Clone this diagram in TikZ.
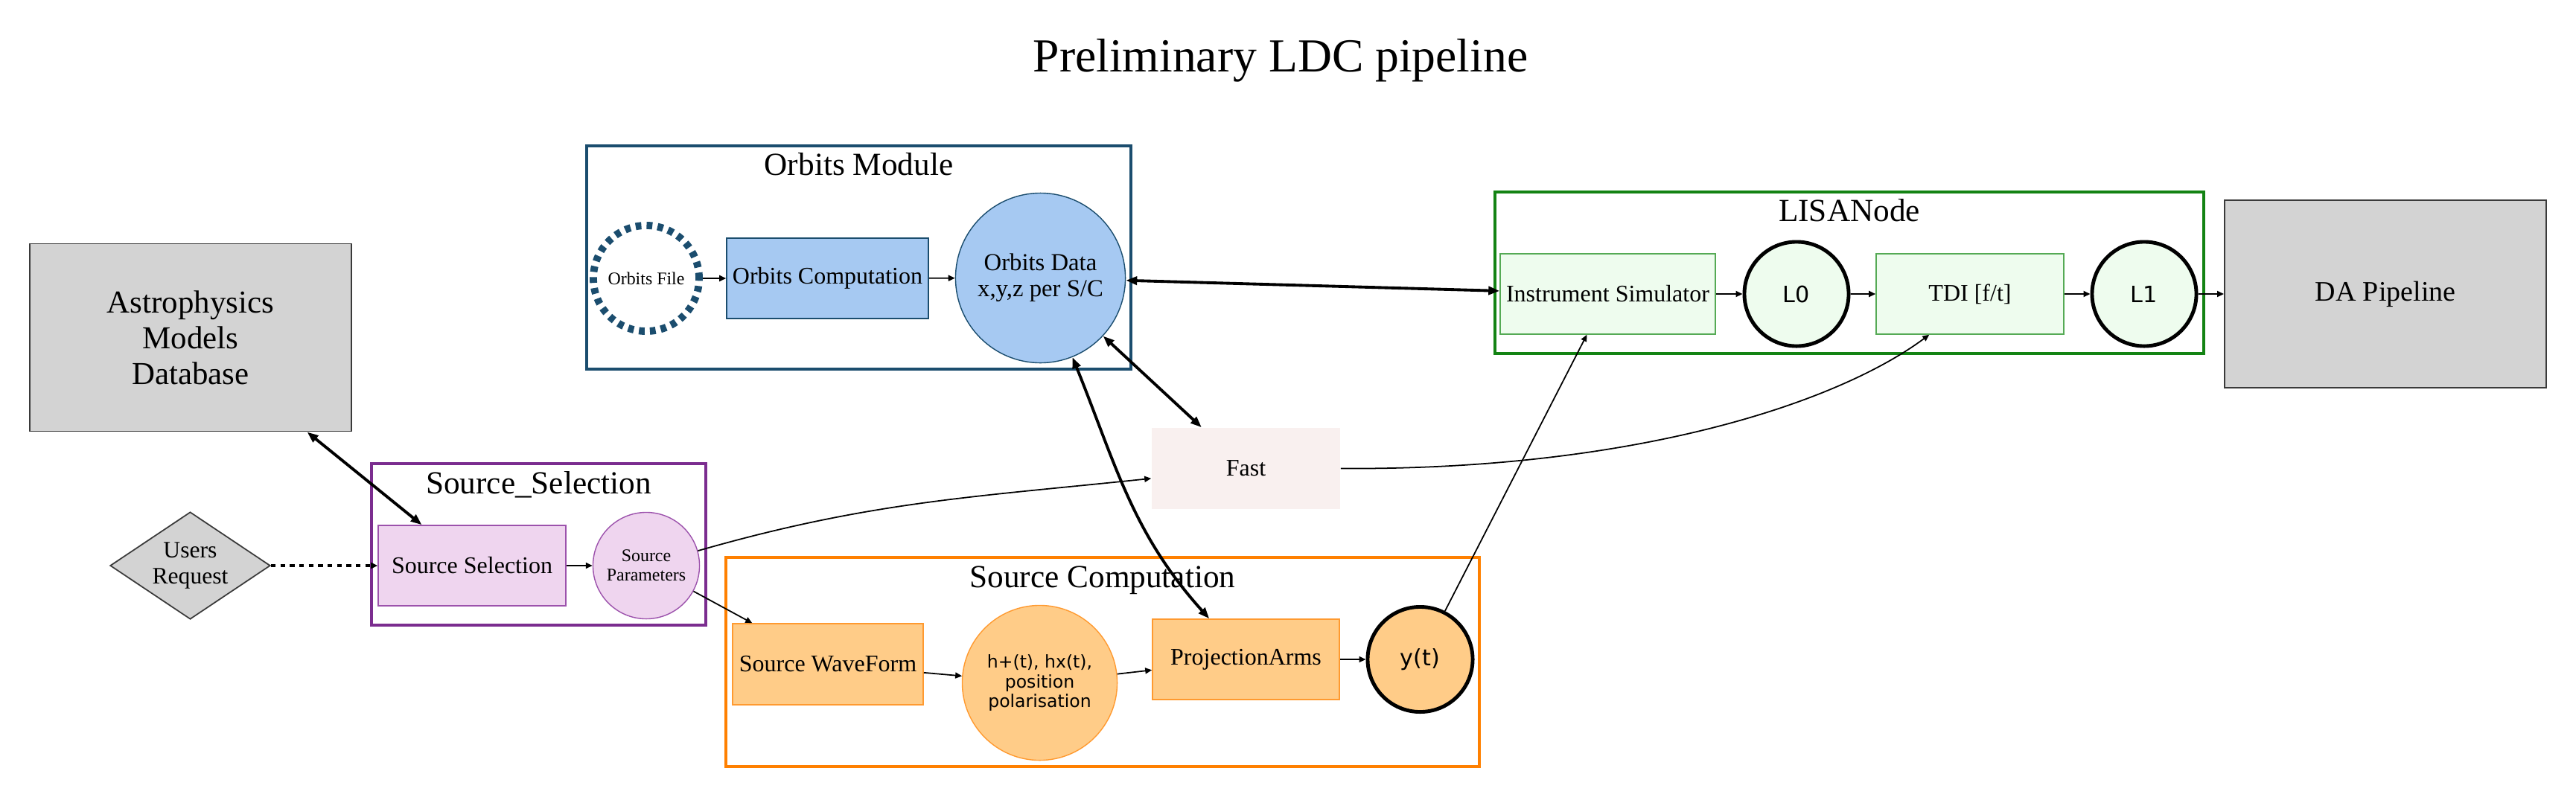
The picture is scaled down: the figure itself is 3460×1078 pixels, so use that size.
\documentclass[tikz,border=0pt]{standalone}
\usepackage{fontspec}
\setmainfont{Liberation Serif}
\newfontfamily\sansfont{DejaVu Sans}
\usepackage{tikz}
\usetikzlibrary{arrows.meta, shapes.geometric}

\definecolor{grayfill}{HTML}{D3D3D3}
\definecolor{grayline}{HTML}{3A3A3A}
\definecolor{orbline}{HTML}{1B4D6E}
\definecolor{orbfill}{HTML}{A6C9F2}
\definecolor{selline}{HTML}{7B2D8F}
\definecolor{selnode}{HTML}{9C52AC}
\definecolor{selfill}{HTML}{EFD5EF}
\definecolor{compline}{HTML}{FF8000}
\definecolor{compnode}{HTML}{FF9A30}
\definecolor{compfill}{HTML}{FFCC88}
\definecolor{lisaline}{HTML}{138313}
\definecolor{lisanode}{HTML}{55AA55}
\definecolor{lisafill}{HTML}{EEFCEE}
\definecolor{fastfill}{HTML}{F9F0EF}

\begin{document}
\begin{tikzpicture}[x=0.01cm, y=-0.01cm,
  lnk/.style={-{Triangle[length=0.09cm,width=0.08cm]}, line width=0.5pt},
  twoway/.style={{Triangle[length=0.15cm,width=0.11cm]}-{Triangle[length=0.15cm,width=0.11cm]}, line width=1.1pt},
  clus/.style={line width=1pt},
  clabel/.style={anchor=base, font=\fontsize{12.3}{14}\selectfont},
  rbox/.style={rectangle, draw, line width=0.4pt, minimum height=1.08cm, inner sep=0pt, align=center, font=\fontsize{9.1}{10}\selectfont},
  ball/.style={circle, draw, line width=0.4pt, inner sep=0pt, align=center},
  level/.style={ball, line width=1.4pt, minimum size=1.4cm, font=\sansfont\fontsize{8.6}{10}\selectfont},
  bigbox/.style={rectangle, draw=grayline, fill=grayfill, line width=0.5pt, minimum width=4.32cm, minimum height=2.52cm, align=center}]
\useasboundingbox (0,0) rectangle (3460,1078);

\node[anchor=base, font=\fontsize{18.1}{21}\selectfont] (title) at (1720,96) {Preliminary LDC pipeline};

% clusters
\draw[clus, draw=orbline] (788,196) rectangle (1519,496);
\node[clabel] (orblabel) at (1153.5,235) {Orbits Module};
\draw[clus, draw=selline] (499,623) rectangle (948,840);
\node[clabel] (sellabel) at (723.5,663.5) {Source\_Selection};
\draw[clus, draw=compline] (975,749) rectangle (1987,1030);
\node[clabel] (complabel) at (1481,789) {Source Computation};
\draw[clus, draw=lisaline] (2008,258) rectangle (2960,475);
\node[clabel] (lisalabel) at (2484,297) {LISANode};

% nodes
\node[bigbox, font=\fontsize{12.2}{13.7}\selectfont] (astro) at (256,453.5) {Astrophysics\\Models\\Database};
\node[diamond, aspect=1.5, draw=grayline, fill=grayfill, line width=0.5pt, inner sep=0pt, minimum width=2.15cm, minimum height=1.44cm, align=center, font=\fontsize{9}{9.7}\selectfont] (users) at (255.5,760) {Users\\Request};
\node[rbox, draw=selnode, fill=selfill, minimum width=2.52cm] (srcsel) at (634,760) {Source Selection};
\node[ball, draw=selnode, fill=selfill, minimum size=1.43cm, font=\fontsize{6.8}{7.4}\selectfont] (srcpar) at (868,760) {Source\\Parameters};

\node[ball, draw=orbline, line width=2.8pt, dash pattern=on 2.2pt off 2pt, minimum size=1.42cm, font=\fontsize{6.8}{7.4}\selectfont] (orbfile) at (868,374) {Orbits File};
\node[rbox, draw=orbline, fill=orbfill, minimum width=2.71cm] (orbcomp) at (1111.5,374) {Orbits Computation};
\node[ball, draw=orbline, fill=orbfill, minimum size=2.28cm, font=\fontsize{9.3}{10}\selectfont] (orbdata) at (1397.5,373.5) {Orbits Data\\x,y,z per S/C};

\node[rbox, draw=none, fill=fastfill, minimum width=2.53cm, minimum height=1.09cm] (fast) at (1673.5,629.5) {Fast};

\node[rbox, draw=compnode, fill=compfill, minimum width=2.56cm, minimum height=1.09cm] (srcwave) at (1112,892.5) {Source WaveForm};
\node[ball, draw=compnode, fill=compfill, minimum size=2.08cm, font=\sansfont\fontsize{6.7}{7.4}\selectfont] (hpol) at (1396.5,917.5) {h+(t), hx(t),\\position\\polarisation};
\node[rbox, draw=compnode, fill=compfill, minimum width=2.51cm] (proj) at (1673.5,886) {ProjectionArms};
\node[level, fill=compfill, minimum size=1.41cm] (yt) at (1907.5,886) {y(t)};

\node[rbox, draw=lisanode, fill=lisafill, minimum width=2.89cm] (instr) at (2159.5,395) {Instrument Simulator};
\node[level, fill=lisafill] (lzero) at (2413,395) {L0};
\node[rbox, draw=lisanode, fill=lisafill, minimum width=2.52cm] (tdi) at (2646,395) {TDI [f/t]};
\node[level, fill=lisafill] (lone) at (2880,395) {L1};

\node[bigbox, font=\fontsize{10.8}{12}\selectfont] (dapipe) at (3204,395) {DA Pipeline};

% edges
\draw[twoway] (astro) -- (srcsel);
\draw[lnk, line width=1.2pt, dash pattern=on 1.8pt off 1.8pt] (users) -- (srcsel);
\draw[lnk] (srcsel) -- (srcpar);
\draw[lnk] (srcpar) to[out=16, in=186] (fast);
\draw[lnk] (srcpar) -- (srcwave);
\draw[lnk] (orbfile) -- (orbcomp);
\draw[lnk] (orbcomp) -- (orbdata);
\draw[twoway] (orbdata) -- (instr);
\draw[twoway] (orbdata) -- (fast);
\draw[twoway] (orbdata) to[out=-68, in=132] (proj);
\draw[lnk] (srcwave) -- (hpol);
\draw[lnk] (hpol) -- (proj);
\draw[lnk] (proj) -- (yt);
\draw[lnk] (yt) -- (instr);
\draw[lnk] (fast.east) .. controls (2200,632) and (2470,540) .. (tdi.-135);
\draw[lnk] (instr) -- (lzero);
\draw[lnk] (lzero) -- (tdi);
\draw[lnk] (tdi) -- (lone);
\draw[lnk] (lone) -- (dapipe);
\end{tikzpicture}
\end{document}
